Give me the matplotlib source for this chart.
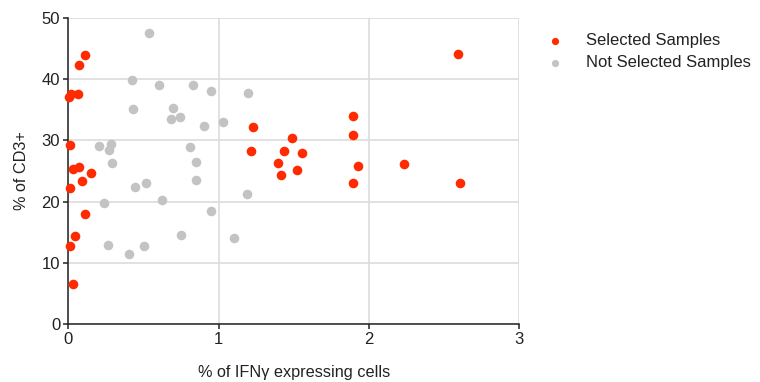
import matplotlib.pyplot as plt

plt.rcParams['font.family'] = ['Liberation Sans', 'DejaVu Sans']

# % IFNg expressing cells vs % of CD3+
sel_x = [0.111, 0.071, 0.005, 0.015, 0.062, 0.011, 0.031, 0.073, 0.151, 0.091,
         0.011, 0.111, 0.045, 0.011, 0.033, 2.594, 1.896, 1.229, 1.486, 1.896,
         1.214, 1.438, 1.555, 1.398, 1.925, 2.235, 1.518, 1.418, 1.896, 2.605]
sel_y = [43.9, 42.3, 37.1, 37.6, 37.6, 29.2, 25.3, 25.7, 24.6, 23.4,
         22.3, 18.0, 14.4, 12.7, 6.5, 44.0, 33.9, 32.2, 30.4, 30.9,
         28.3, 28.2, 27.9, 26.3, 25.8, 26.1, 25.2, 24.3, 23.1, 23.0]

not_x = [0.534, 0.421, 0.600, 0.829, 0.948, 1.196, 0.432, 0.698, 0.680, 0.742,
         1.030, 0.900, 0.202, 0.284, 0.273, 0.292, 0.811, 0.850, 0.850, 0.441,
         0.518, 1.189, 0.239, 0.620, 0.948, 0.262, 0.401, 0.501, 0.751, 1.099]
not_y = [47.5, 39.8, 39.0, 39.0, 38.0, 37.8, 35.1, 35.3, 33.5, 33.8,
         33.0, 32.3, 29.1, 29.4, 28.5, 26.3, 28.9, 26.5, 23.5, 22.4,
         23.1, 21.2, 19.8, 20.2, 18.4, 12.9, 11.4, 12.8, 14.6, 14.0]

fig = plt.figure(figsize=(7.6, 3.82), dpi=100)
ax = fig.add_axes([68.3 / 760, 1 - 324.3 / 382, 451 / 760, 306.6 / 382])

ax.scatter(not_x, not_y, s=48, color='#c3c3c3', linewidths=0,
           label='Not Selected Samples', zorder=3, clip_on=False)
ax.scatter(sel_x, sel_y, s=48, color='#ff2a00', linewidths=0,
           label='Selected Samples', zorder=4, clip_on=False)

ax.set_xlim(0, 3)
ax.set_ylim(0, 50)
ax.set_xticks([0, 1, 2, 3])
ax.set_yticks([0, 10, 20, 30, 40, 50])
ax.grid(True, color='#dcdcdc', linewidth=1.2, zorder=0)
ax.set_axisbelow(True)

for spine in ['top', 'right']:
    ax.spines[spine].set_visible(False)
for spine in ['left', 'bottom']:
    ax.spines[spine].set_linewidth(1.1)
    ax.spines[spine].set_color('#222222')
    ax.spines[spine].set_zorder(2)

ax.tick_params(direction='out', length=3.8, width=1.1, color='#222222',
               labelsize=12, labelcolor='#222222', pad=2)

ax.set_xlabel('% of IFN\u03b3 expressing cells', fontsize=11.7, color='#222222', labelpad=13)
ax.set_ylabel('% of CD3+', fontsize=11.7, color='#222222', labelpad=9)

handles, labels = ax.get_legend_handles_labels()
fig.legend(handles[::-1], labels[::-1], loc='upper left',
           bbox_to_anchor=(523 / 760, 1 - 18 / 382), frameon=False,
           fontsize=12, markerscale=0.75, handletextpad=0.85,
           labelspacing=0.45, labelcolor='#222222')

fig.savefig('out.png', dpi=100)
